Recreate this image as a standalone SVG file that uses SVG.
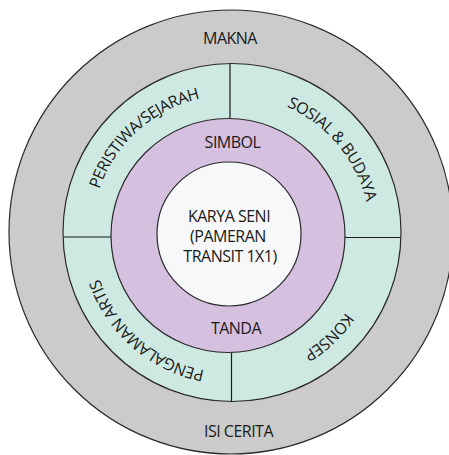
<svg xmlns="http://www.w3.org/2000/svg" xmlns:xlink="http://www.w3.org/1999/xlink" width="449" height="455" viewBox="0 0 449 455">
  <style>
    .ring { stroke: #2b2b2b; stroke-width: 1.2; }
    .div { stroke: #1a1a1a; stroke-width: 1.2; fill: none; }
    text { font-family: "Open Sans", "Liberation Sans", sans-serif; font-size: 16px; letter-spacing: -0.5px; fill: #1a1a1a; }
    .c { text-anchor: middle; }
  </style>
  <defs>
    <path id="arc" d="M 370,234 A 139 139 0 1 1 92,234 A 139 139 0 1 1 370,234"/>
  </defs>
  <rect width="449" height="455" fill="#ffffff"/>
  <g id="makna">
    <circle class="ring" cx="231" cy="232" r="222" fill="#cbcbcb"/>
    <text class="c" x="230" y="44">MAKNA</text>
    <text class="c" x="238.5" y="437">ISI CERITA</text>
  </g>
  <g id="konteks">
    <circle class="ring" cx="232" cy="232.5" r="169" fill="#cde9e1"/>
  </g>
  <g id="connectors">
    <line class="div" x1="230" y1="63.5" x2="230" y2="118"/>
    <line class="div" x1="231.5" y1="353" x2="231.5" y2="401.5"/>
    <line class="div" x1="63.5" y1="237" x2="111" y2="237"/>
    <line class="div" x1="344" y1="237.5" x2="400.5" y2="237.5"/>
  </g>
  <g id="peristiwa">
    <text><textPath xlink:href="#arc" href="#arc" startOffset="63.3%" text-anchor="middle">PERISTIWA/SEJARAH</textPath></text>
  </g>
  <g id="sosial">
    <text><textPath xlink:href="#arc" href="#arc" startOffset="88.9%" text-anchor="middle">SOSIAL &amp; BUDAYA</textPath></text>
  </g>
  <g id="pengalaman">
    <text><textPath xlink:href="#arc" href="#arc" startOffset="36.4%" text-anchor="middle">PENGALAMAN ARTIS</textPath></text>
  </g>
  <g id="konsep">
    <text><textPath xlink:href="#arc" href="#arc" startOffset="12.9%" text-anchor="middle">KONSEP</textPath></text>
  </g>
  <g id="simbol-tanda">
    <circle class="ring" cx="228" cy="235.5" r="117" fill="#d5c0df"/>
    <text class="c" x="232.5" y="148">SIMBOL</text>
    <text class="c" x="236" y="334">TANDA</text>
  </g>
  <g id="karya-seni">
    <circle class="ring" cx="229" cy="234" r="72" fill="#f7f8fa"/>
    <text class="c" x="229" y="222">KARYA SENI</text>
    <text class="c" x="228" y="242">(PAMERAN</text>
    <text class="c" x="230" y="262">TRANSIT 1X1)</text>
  </g>
</svg>
